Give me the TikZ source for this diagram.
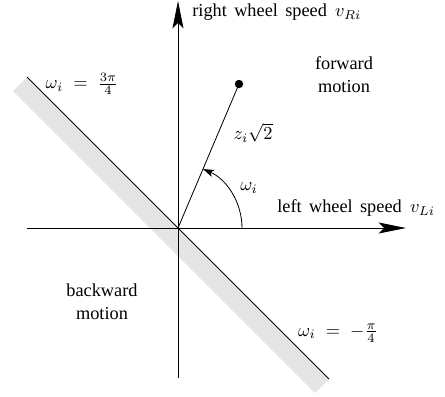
\documentclass[tikz,border=0pt]{standalone}
\usepackage[no-math]{fontspec}
\setmainfont{Liberation Serif}
\usetikzlibrary{arrows.meta}
\tikzset{
  axis/.style={line width=0.45pt, -{Stealth[length=15pt,width=6pt,inset=3pt]}},
  plain/.style={line width=0.45pt},
  band/.style={line width=10.9pt, color=gray!20},
  lbl/.style={inner sep=0pt, font=\fontsize{10}{12.5}\selectfont},
  twoline/.style={lbl, align=center},
  dot/.style={circle, fill=black, inner sep=0pt, minimum size=4.6pt},
}
\begin{document}
\begin{tikzpicture}[x=0.5464pt, y=-0.5464pt]
\useasboundingbox (0,0) rectangle (445,396);
% coordinates
\coordinate (O) at (178,228);
\coordinate (xl) at (27,228);
\coordinate (xr) at (406,228);
\coordinate (yb) at (178,378);
\coordinate (yt) at (178,1);
\coordinate (dA) at (27,77);
\coordinate (dB) at (329,379);
\coordinate (gA) at (20,84);
\coordinate (gB) at (322,386);
% gray band
\draw[band] (gA) -- (gB);
% diagonal line
\draw[plain] (dA) -- (dB);
% axes
\draw[axis] (xl) -- (xr);
\draw[axis] (yb) -- (yt);
% point and radius
\node[dot] (P) at (239,84) {};
\draw[plain] (O) -- (P.center);
% angle arc
\draw[plain, -{Stealth[length=6pt,width=4pt,inset=1.5pt]}] (O) ++(64,0) arc[start angle=0, end angle=-67, radius=64];
% labels
\node[lbl, anchor=west] (ry) at (192,12) {right\hspace{4pt}wheel\hspace{4pt}speed\hspace{4.5pt}$v_{Ri}$};
\node[lbl, anchor=west] (lx) at (277,208) {left\hspace{4pt}wheel\hspace{4pt}speed\hspace{4.5pt}$v_{Li}$};
\node[twoline] (fw) at (344,75) {forward\\motion};
\node[twoline] (bw) at (102,302) {backward\\motion};
\node[lbl] (w1) at (82,84) {$\omega_i\;=\;\frac{3\pi}{4}$};
\node[lbl] (w2) at (338,333) {$\omega_i\;=\;-\frac{\pi}{4}$};
\node[lbl] (wi) at (249,188) {$\omega_i$};
\node[lbl] (z) at (253,133) {$z_i\sqrt{2}$};
\end{tikzpicture}
\end{document}
